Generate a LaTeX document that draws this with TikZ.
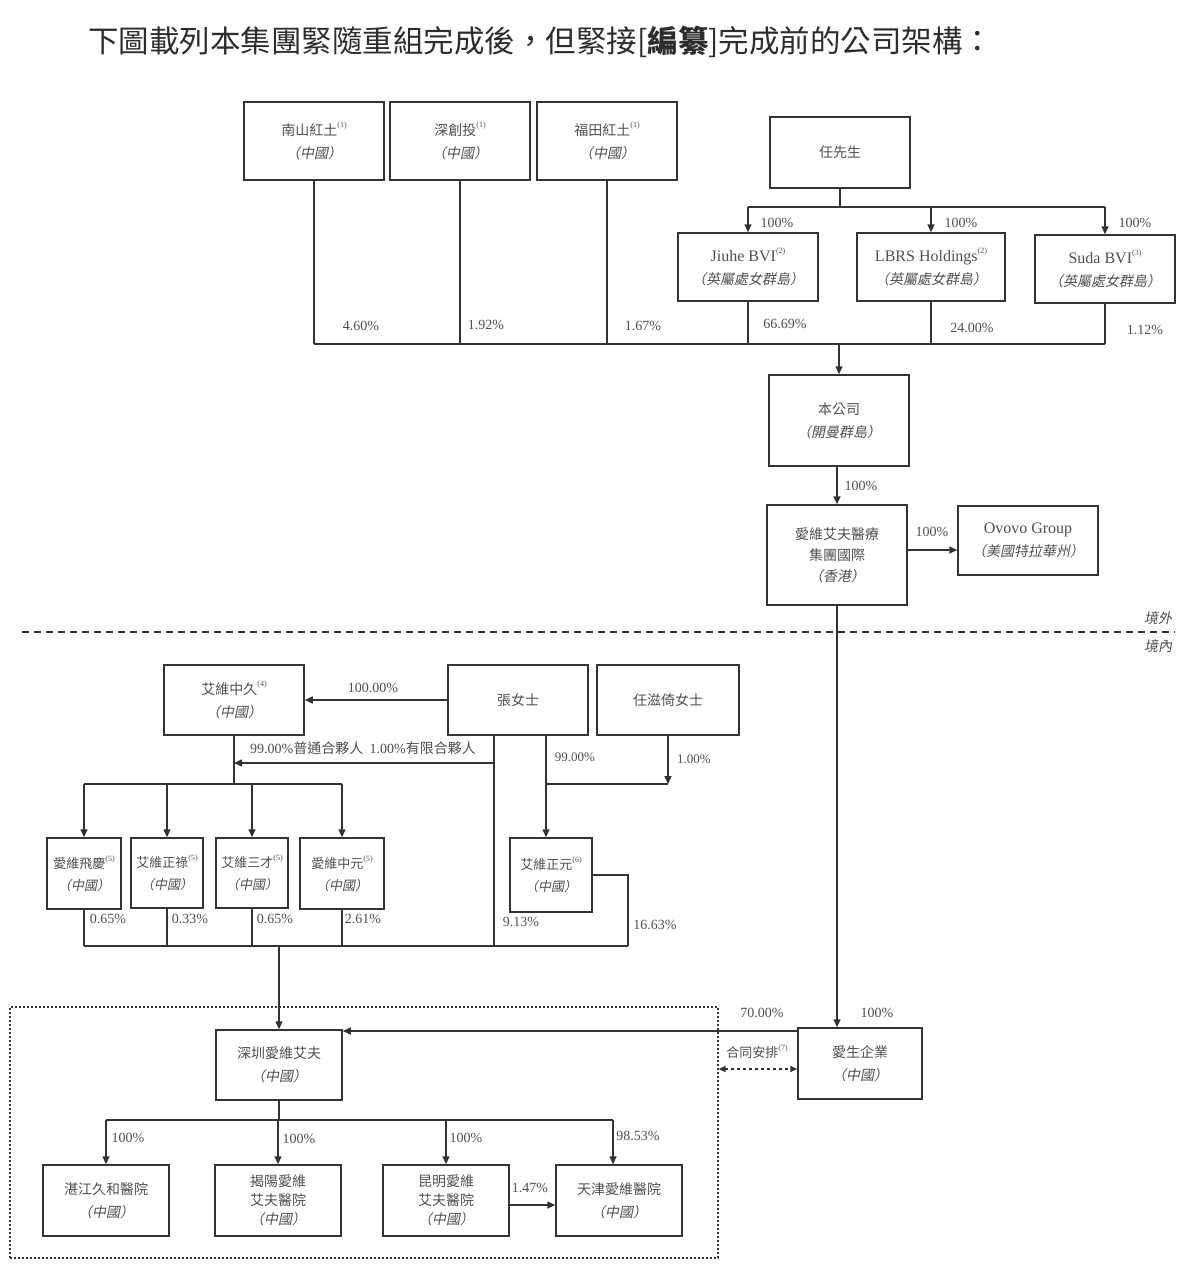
\documentclass[tikz,border=0pt]{standalone}
\usepackage{fontspec}
\setmainfont{Liberation Serif}
\newfontfamily\cjk{Noto Sans CJK TC}
\newfontfamily\cjki{Noto Sans CJK TC}[FakeSlant=0.2]
\newfontfamily\lat{Liberation Serif}
\usetikzlibrary{arrows.meta,calc}
\definecolor{txt}{RGB}{80,80,80}
\definecolor{ln}{RGB}{50,50,50}
\newcommand{\sups}[1]{\raisebox{0.55em}{\lat\fontsize{8}{8}\selectfont(#1)}}
\newcommand{\loc}[1]{{\cjki （#1）}}
\tikzset{
  box/.style={draw=ln, line width=1.5pt, inner sep=0pt, align=center, text=txt, font=\cjk\fontsize{14}{23}\selectfont},
  conn/.style={draw=ln, line width=1.5pt},
  arr/.style={conn, -{Triangle[length=8pt,width=7pt]}},
  pct/.style={text=txt, font=\lat\fontsize{14}{16}\selectfont, inner sep=0pt},
  lbl/.style={text=txt, font=\cjk\fontsize{13}{16}\selectfont, inner sep=0pt},
}
\begin{document}
\begin{tikzpicture}[x=1pt,y=-1pt]
\useasboundingbox (0,0) rectangle (1200,1278);
\fill[white] (0,0) rectangle (1200,1278);

% title
\node[anchor=west, inner sep=0pt, text={rgb,255:red,45;green,45;blue,45}, font=\cjk\fontsize{30.5}{32}\selectfont] (title) at (88,42) {下圖載列本集團緊隨重組完成後，但緊接[\textbf{編纂}]完成前的公司架構：};

% top shareholders
\node[box, minimum width=140pt, minimum height=78pt] (n1) at (314,141) {南山紅土\sups{1}\\\loc{中國}};
\node[box, minimum width=140pt, minimum height=78pt] (n2) at (460,141) {深創投\sups{1}\\\loc{中國}};
\node[box, minimum width=140pt, minimum height=78pt] (n3) at (607,141) {福田紅土\sups{1}\\\loc{中國}};
\node[box, minimum width=140pt, minimum height=71pt] (ren) at (840,152.5) {任先生};
\node[box, minimum width=140pt, minimum height=68pt] (jiuhe) at (748,267) {{\lat\fontsize{16}{16}\selectfont Jiuhe BVI}\sups{2}\\\loc{英屬處女群島}};
\node[box, minimum width=148pt, minimum height=68pt] (lbrs) at (931,267) {{\lat\fontsize{16}{16}\selectfont LBRS Holdings}\sups{2}\\\loc{英屬處女群島}};
\node[box, minimum width=140pt, minimum height=68pt] (suda) at (1105,269) {{\lat\fontsize{16}{16}\selectfont Suda BVI}\sups{3}\\\loc{英屬處女群島}};

\node[box, minimum width=140pt, minimum height=91pt] (co) at (839,420.5) {本公司\\\loc{開曼群島}};
\node[box, minimum width=140pt, minimum height=100pt, font=\cjk\fontsize{14}{21}\selectfont] (hk) at (837,555) {愛維艾夫醫療\\集團國際\\\loc{香港}};
\node[box, minimum width=140pt, minimum height=69pt] (ovovo) at (1028,540.5) {{\lat\fontsize{16}{16}\selectfont Ovovo Group}\\\loc{美國特拉華州}};

% top connectors
\coordinate (busT) at (0,344);
\draw[conn] (n1.south) -- (n1.south |- busT);
\draw[conn] (n2.south) -- (n2.south |- busT);
\draw[conn] (n3.south) -- (n3.south |- busT);
\draw[conn] (jiuhe.south) -- (jiuhe.south |- busT);
\draw[conn] (lbrs.south) -- (lbrs.south |- busT);
\draw[conn] (suda.south) -- (suda.south |- busT);
\draw[conn] (n1.south |- busT) -- (suda.south |- busT);
\draw[arr] (co.north |- busT) -- (co.north);

\coordinate (busR) at (0,207);
\draw[conn] (ren.south) -- (ren.south |- busR);
\draw[conn] (jiuhe.north |- busR) -- (suda.north |- busR);
\draw[arr] (jiuhe.north |- busR) -- (jiuhe.north);
\draw[arr] (lbrs.north |- busR) -- (lbrs.north);
\draw[arr] (suda.north |- busR) -- (suda.north);

\node[pct] (p1) at (777,223) {100\%};
\node[pct] (p2) at (961,223) {100\%};
\node[pct] (p3) at (1135,223) {100\%};
\node[pct] (p4) at (361,326) {4.60\%};
\node[pct] (p5) at (486,325) {1.92\%};
\node[pct] (p6) at (643,326) {1.67\%};
\node[pct] (p7) at (785,324) {66.69\%};
\node[pct] (p8) at (972,328) {24.00\%};
\node[pct] (p9) at (1145,330) {1.12\%};

\draw[arr] (co.south -| hk.north) -- (hk.north);
\node[pct] (p10) at (861,486) {100\%};
\coordinate (y550) at (0,550);
\draw[arr] (hk.east |- y550) -- (ovovo.west |- y550);
\node[pct] (p11) at (932,532) {100\%};

% border line
\coordinate (dl) at (22,632);
\coordinate (dr) at (1175,632);
\draw[ln, line width=1.3pt, dash pattern=on 7pt off 5pt] (dl) -- (dr);
\node[lbl, font=\cjki\fontsize{14}{16}\selectfont] (out) at (1158,618) {境外};
\node[lbl, font=\cjki\fontsize{14}{16}\selectfont] (in) at (1158,646) {境內};

% domestic holders
\node[box, minimum width=140pt, minimum height=70pt] (zj) at (234,700) {艾維中久\sups{4}\\\loc{中國}};
\node[box, minimum width=140pt, minimum height=70pt] (zhang) at (518,700) {張女士};
\node[box, minimum width=142pt, minimum height=70pt] (renz) at (668,700) {任滋倚女士};

\draw[arr] (zhang.west) -- (zj.east);
\node[pct] (p12) at (373,688) {100.00\%};

\node[box, minimum width=74pt, minimum height=71pt, font=\cjk\fontsize{13}{22}\selectfont] (f1) at (84,873.5) {愛維飛慶\sups{5}\\\loc{中國}};
\node[box, minimum width=72pt, minimum height=70pt, font=\cjk\fontsize{13}{22}\selectfont] (f2) at (167,873) {艾維正祿\sups{5}\\\loc{中國}};
\node[box, minimum width=72pt, minimum height=70pt, font=\cjk\fontsize{13}{22}\selectfont] (f3) at (252,873) {艾維三才\sups{5}\\\loc{中國}};
\node[box, minimum width=84pt, minimum height=71pt, font=\cjk\fontsize{13}{22}\selectfont] (f4) at (342,873.5) {愛維中元\sups{5}\\\loc{中國}};
\node[box, minimum width=82pt, minimum height=74pt, font=\cjk\fontsize{13}{22}\selectfont] (zy) at (551,875) {艾維正元\sups{6}\\\loc{中國}};

\coordinate (busA) at (0,784);
\coordinate (busB) at (0,946);
\coordinate (y763) at (0,763);
\coordinate (zx1) at (494,0);
\coordinate (zx2) at (546,0);
\coordinate (zx3) at (628,0);

\draw[conn] (zj.south) -- (zj.south |- busA);
\draw[conn] (f1.north |- busA) -- (f4.north |- busA);
\draw[arr] (f1.north |- busA) -- (f1.north);
\draw[arr] (f2.north |- busA) -- (f2.north);
\draw[arr] (f3.north |- busA) -- (f3.north);
\draw[arr] (f4.north |- busA) -- (f4.north);

\draw[conn] (zhang.south -| zx1) -- (zx1 |- busB);
\draw[arr] (zx1 |- y763) -- (zj.south |- y763);
\node[lbl, font=\cjk\fontsize{14}{16}\selectfont] (gp) at (363,748) {{\lat 99.00\%}普通合夥人\ \ {\lat 1.00\%}有限合夥人};

\draw[arr] (zhang.south -| zx2) -- (zy.north -| zx2);
\draw[arr] (renz.south) -- (renz.south |- busA);
\draw[conn] (renz.south |- busA) -- (zx2 |- busA);
\node[pct, font=\lat\fontsize{13}{15}\selectfont] (p13) at (575,757) {99.00\%};
\node[pct, font=\lat\fontsize{13}{15}\selectfont] (p14) at (694,759) {1.00\%};

\draw[conn] (zy.east) -- (zy.east -| zx3) -- (zx3 |- busB);
\draw[conn] (f1.south) -- (f1.south |- busB);
\draw[conn] (f2.south) -- (f2.south |- busB);
\draw[conn] (f3.south) -- (f3.south |- busB);
\draw[conn] (f4.south) -- (f4.south |- busB);
\draw[conn] (f1.south |- busB) -- (zx3 |- busB);

\node[pct] (p15) at (108,919) {0.65\%};
\node[pct] (p16) at (190,919) {0.33\%};
\node[pct] (p17) at (275,919) {0.65\%};
\node[pct] (p18) at (363,919) {2.61\%};
\node[pct] (p19) at (521,922) {9.13\%};
\node[pct] (p20) at (655,925) {16.63\%};

% onshore group
\node[draw=ln, line width=1.3pt, dash pattern=on 2pt off 2pt, minimum width=708pt, minimum height=251pt, inner sep=0pt] (zone) at (364,1132.5) {};
\node[box, minimum width=126pt, minimum height=70pt] (sz) at (279,1065) {深圳愛維艾夫\\\loc{中國}};
\node[box, minimum width=124pt, minimum height=71pt] (as) at (860,1063.5) {愛生企業\\\loc{中國}};

\draw[arr] (sz.north |- busB) -- (sz.north);
\draw[arr] (hk.south) -- (hk.south |- as.north);
\node[pct] (p21) at (877,1013) {100\%};
\coordinate (y1031) at (0,1031);
\draw[arr] (as.west |- y1031) -- (sz.east |- y1031);
\node[pct] (p22) at (762,1013) {70.00\%};
\coordinate (y1069) at (0,1069);
\draw[ln, line width=1.5pt, dash pattern=on 3pt off 3pt, {Triangle[length=7pt,width=6pt]}-{Triangle[length=7pt,width=6pt]}] (zone.east |- y1069) -- (as.west |- y1069);
\node[lbl] (ca) at (757,1052) {合同安排\sups{7}};

\node[box, minimum width=126pt, minimum height=71pt] (h1) at (106,1200.5) {湛江久和醫院\\\loc{中國}};
\node[box, minimum width=126pt, minimum height=71pt, font=\cjk\fontsize{14}{19}\selectfont] (h2) at (278,1200.5) {揭陽愛維\\艾夫醫院\\\loc{中國}};
\node[box, minimum width=126pt, minimum height=71pt, font=\cjk\fontsize{14}{19}\selectfont] (h3) at (446,1200.5) {昆明愛維\\艾夫醫院\\\loc{中國}};
\node[box, minimum width=126pt, minimum height=71pt] (h4) at (619,1200.5) {天津愛維醫院\\\loc{中國}};

\coordinate (busC) at (0,1120);
\coordinate (hx4) at (613,0);
\draw[conn] (sz.south) -- (sz.south |- busC);
\draw[conn] (h1.north |- busC) -- (hx4 |- busC);
\draw[arr] (h1.north |- busC) -- (h1.north);
\draw[arr] (h2.north |- busC) -- (h2.north);
\draw[arr] (h3.north |- busC) -- (h3.north);
\draw[arr] (hx4 |- busC) -- (h4.north -| hx4);
\node[pct] (p23) at (128,1138) {100\%};
\node[pct] (p24) at (299,1139) {100\%};
\node[pct] (p25) at (466,1138) {100\%};
\node[pct] (p26) at (638,1136) {98.53\%};

\coordinate (y1205) at (0,1205);
\draw[arr] (h3.east |- y1205) -- (h4.west |- y1205);
\node[pct] (p27) at (530,1188) {1.47\%};
\end{tikzpicture}
\end{document}
